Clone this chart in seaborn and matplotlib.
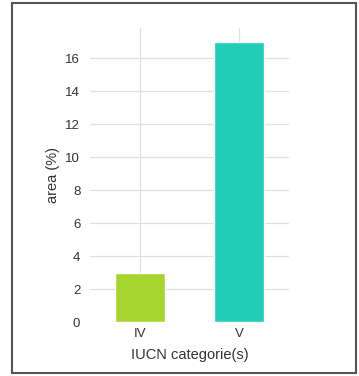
import matplotlib
matplotlib.use("Agg")
import matplotlib.pyplot as plt
import seaborn as sns
import pandas as pd
from matplotlib.patches import Rectangle

categories = ["IV", "V"]
values = [3, 17]
colors = ["#a6d62e", "#22cdb8"]

sns.set_theme(style="white")
plt.rcParams['font.family'] = ['Liberation Sans', 'DejaVu Sans']

df = pd.DataFrame({"cat": categories, "val": values})

fig = plt.figure(figsize=(3.59, 3.76), dpi=100)
ax = fig.add_axes([0.2507, 0.1436, 0.5543, 0.7819])
sns.barplot(data=df, x="cat", y="val", hue="cat", palette=colors, width=0.5,
            legend=False, ax=ax, saturation=1, zorder=3)
ax.set_xlim(-0.5, 1.5)
ax.set_ylim(0, 17.82)
ax.set_yticks([0, 2, 4, 6, 8, 10, 12, 14, 16])
for s in ax.spines.values():
    s.set_visible(False)
ax.grid(True, color="#e0e0e0", linewidth=0.9, zorder=0)
ax.set_axisbelow(True)
ax.tick_params(axis="both", length=0, labelsize=9.5, labelcolor="#333333")
ax.tick_params(axis="y", pad=7)
ax.tick_params(axis="x", pad=4)
ax.set_xlabel("IUCN categorie(s)", fontsize=10.5, color="#333333", labelpad=6)
ax.set_ylabel("area (%)", fontsize=10.5, color="#333333", labelpad=4)

fig.patches.append(Rectangle((12/359, 3/376), 344/359, 370/376, transform=fig.transFigure,
                             fill=False, edgecolor="#555555", linewidth=1.5))
fig.savefig("out.png", dpi=100)
